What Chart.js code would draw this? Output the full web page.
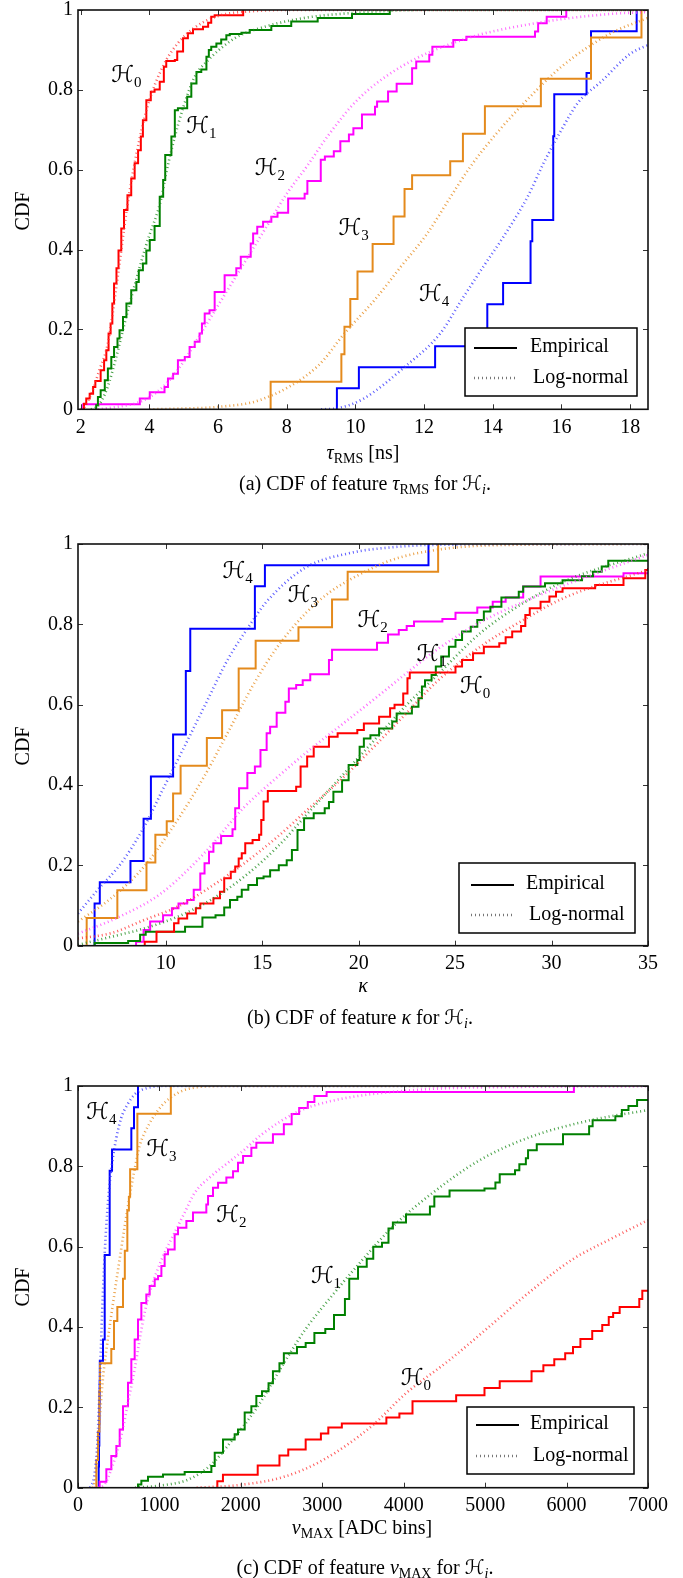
<!DOCTYPE html>
<html><head><meta charset="utf-8">
<script src="https://cdn.jsdelivr.net/npm/chart.js@4.4.0/dist/chart.umd.min.js"></script>
<style>
html,body{margin:0;padding:0;background:#fff;}
#wrap{position:relative;width:683px;height:1578px;overflow:hidden;}
canvas{position:absolute;left:0;}
</style></head><body><div id="wrap">
<canvas id="ca" width="683" height="500" style="top:0px"></canvas>
<canvas id="cb" width="683" height="510" style="top:520px"></canvas>
<canvas id="cc" width="683" height="518" style="top:1060px"></canvas>
</div>
<script>
// ---------- categories ----------
const hypotheses = ['H0','H1','H2','H3','H4'];
const yTicks = [0,0.2,0.4,0.6,0.8,1];
const tauTicks = [2,4,6,8,10,12,14,16,18];
const kapTicks = [10,15,20,25,30,35];
const vTicks = [0,1000,2000,3000,4000,5000,6000,7000];

// ---------- (a) tau_RMS : empirical [x, CDF] ----------
const tauEmpH0 = [[2.06,0],[2.095,0.014],[2.16,0.027],[2.26,0.039],[2.36,0.056],[2.425,0.071],[2.58,0.098],[2.68,0.123],[2.745,0.148],[2.81,0.19],[2.87,0.215],[2.92,0.265],[2.97,0.315],[3.04,0.353],[3.10,0.398],[3.18,0.453],[3.26,0.499],[3.36,0.536],[3.47,0.578],[3.57,0.616],[3.67,0.649],[3.75,0.683],[3.81,0.724],[3.91,0.774],[4.04,0.795],[4.15,0.801],[4.30,0.82],[4.42,0.858],[4.49,0.872],[4.74,0.875],[4.81,0.896],[4.98,0.929],[5.12,0.942],[5.27,0.952],[5.56,0.958],[5.71,0.968],[5.80,0.983],[5.90,0.987],[6.73,1.0]];
const tauEmpH1 = [[2.45,0],[2.45,0.01],[2.50,0.031],[2.58,0.048],[2.70,0.073],[2.79,0.102],[2.89,0.131],[2.97,0.156],[3.07,0.177],[3.13,0.198],[3.23,0.231],[3.33,0.265],[3.47,0.298],[3.62,0.319],[3.69,0.348],[3.81,0.365],[3.91,0.398],[4.01,0.424],[4.15,0.459],[4.30,0.532],[4.40,0.574],[4.46,0.637],[4.64,0.683],[4.74,0.749],[4.83,0.754],[5.10,0.783],[5.22,0.816],[5.37,0.845],[5.51,0.851],[5.66,0.883],[5.73,0.9],[5.80,0.908],[5.95,0.916],[6.09,0.926],[6.24,0.937],[6.34,0.94],[6.68,0.943],[6.92,0.95],[7.55,0.96],[8.13,0.971],[8.9,0.98],[9.9,0.99],[11.0,1.0]];
const tauEmpH2 = [[2.07,0],[2.07,0.0125],[3.72,0.027],[4.01,0.043],[4.44,0.056],[4.54,0.077],[4.69,0.089],[4.83,0.123],[5.03,0.131],[5.17,0.156],[5.32,0.169],[5.46,0.19],[5.53,0.215],[5.61,0.24],[5.75,0.248],[5.90,0.294],[6.19,0.336],[6.53,0.353],[6.66,0.382],[6.95,0.415],[7.02,0.44],[7.14,0.457],[7.31,0.47],[7.55,0.482],[7.73,0.492],[8.04,0.528],[8.52,0.54],[8.60,0.572],[8.99,0.625],[9.11,0.633],[9.37,0.646],[9.56,0.671],[9.81,0.688],[9.94,0.704],[10.19,0.738],[10.57,0.758],[10.63,0.771],[10.95,0.796],[11.20,0.815],[11.65,0.854],[11.77,0.871],[12.15,0.888],[12.24,0.908],[12.85,0.925],[13.23,0.933],[15.23,0.946],[15.32,0.967],[15.57,0.983],[16.14,1.0]];
const tauEmpH3 = [[7.53,0],[7.53,0.069],[9.59,0.138],[9.68,0.207],[9.85,0.276],[10.06,0.345],[10.5,0.414],[11.11,0.483],[11.43,0.552],[11.65,0.586],[12.76,0.621],[13.13,0.69],[13.77,0.759],[15.4,0.828],[16.86,0.931],[18.33,1.0]];
const tauEmpH4 = [[9.46,0],[9.46,0.053],[10.1,0.105],[12.32,0.158],[13.84,0.263],[14.3,0.316],[15.1,0.421],[15.15,0.474],[15.76,0.684],[15.79,0.789],[16.73,0.842],[16.86,0.947],[18.19,1.0]];
// ---------- (a) tau_RMS : log-normal fit [x, CDF] ----------
const tauLnH0 = [[2.0,0],[2.11,0.006],[2.31,0.04],[2.55,0.1],[2.79,0.165],[3.05,0.315],[3.34,0.5],[3.6,0.63],[3.95,0.76],[4.4,0.86],[4.83,0.917],[5.3,0.955],[6.0,0.985],[7.0,0.997],[8.0,1.0],[18.6,1.0]];
const tauLnH1 = [[2.3,0],[2.45,0.005],[2.6,0.02],[2.8,0.06],[3.0,0.12],[3.38,0.25],[3.9,0.41],[4.35,0.53],[4.46,0.58],[4.69,0.666],[5.0,0.76],[5.32,0.833],[5.66,0.87],[6.5,0.93],[7.36,0.958],[8.5,0.98],[10,0.993],[12,1],[18.6,1]];
const tauLnH2 = [[2.5,0],[3.2,0.008],[3.6,0.015],[4.0,0.03],[4.5,0.065],[5.0,0.12],[5.5,0.19],[6.0,0.26],[6.5,0.33],[7.0,0.4],[7.5,0.47],[8.0,0.54],[8.6,0.61],[9.2,0.685],[10.06,0.775],[11.33,0.858],[13.1,0.925],[15.25,0.967],[17.4,0.99],[18.6,0.995]];
const tauLnH3 = [[4,0],[5,0.002],[6,0.006],[7.28,0.025],[8.9,0.108],[9.68,0.19],[10.57,0.275],[11.33,0.358],[12.09,0.44],[12.72,0.525],[13.35,0.608],[14.1,0.69],[15.0,0.775],[16.0,0.858],[17.4,0.94],[18.6,0.983]];
const tauLnH4 = [[9.0,0],[9.43,0.002],[10.2,0.025],[11.46,0.108],[12.47,0.19],[13.1,0.275],[13.73,0.358],[14.37,0.44],[15.0,0.53],[15.5,0.62],[16.0,0.7],[16.5,0.77],[17.15,0.82],[18.0,0.89],[18.6,0.915]];

// ---------- (b) kappa : empirical ----------
const kapEmpH0 = [[8.91,0],[8.91,0.01],[9.52,0.035],[10.43,0.056],[10.66,0.068],[11.11,0.08],[11.56,0.093],[11.79,0.105],[12.47,0.118],[12.81,0.134],[13.03,0.168],[13.37,0.184],[13.6,0.197],[13.78,0.217],[13.94,0.23],[14.12,0.255],[14.5,0.263],[14.84,0.276],[14.95,0.313],[15.07,0.359],[15.29,0.385],[16.76,0.396],[16.99,0.446],[17.33,0.471],[17.67,0.495],[18.46,0.52],[18.91,0.529],[19.93,0.537],[20.27,0.553],[21.06,0.57],[21.63,0.591],[21.86,0.6],[22.31,0.628],[22.53,0.666],[22.65,0.68],[25.02,0.695],[25.36,0.711],[25.93,0.728],[26.49,0.744],[27.29,0.753],[27.62,0.768],[27.96,0.782],[28.42,0.796],[28.64,0.823],[28.87,0.84],[29.43,0.856],[29.89,0.869],[30.23,0.881],[30.57,0.89],[32.26,0.898],[33.73,0.915],[34.86,0.935],[35,0.94]];
const kapEmpH1 = [[6.31,0],[6.31,0.007],[8.05,0.012],[8.67,0.027],[8.96,0.035],[11.0,0.047],[11.9,0.07],[12.58,0.076],[13.03,0.095],[13.33,0.114],[13.71,0.122],[13.94,0.139],[14.28,0.151],[14.73,0.168],[15.07,0.172],[15.41,0.188],[15.86,0.2],[16.27,0.213],[16.54,0.238],[16.83,0.288],[17.17,0.317],[17.67,0.33],[18.24,0.342],[18.46,0.358],[18.69,0.383],[19.14,0.412],[19.48,0.45],[19.93,0.462],[20.05,0.495],[20.27,0.516],[20.61,0.524],[21.06,0.541],[21.74,0.558],[21.97,0.578],[22.76,0.595],[23.1,0.616],[23.28,0.645],[23.44,0.661],[23.78,0.674],[24.0,0.695],[24.28,0.72],[24.68,0.744],[25.02,0.761],[25.36,0.782],[25.81,0.794],[26.15,0.811],[26.49,0.832],[26.83,0.844],[27.4,0.867],[28.3,0.881],[28.53,0.894],[29.66,0.902],[30.57,0.91],[31.58,0.92],[32.15,0.931],[32.6,0.944],[32.94,0.958],[35,0.958]];
const kapEmpH2 = [[8.46,0],[8.46,0.01],[8.85,0.039],[9.19,0.06],[9.86,0.076],[10.32,0.093],[10.66,0.105],[11.11,0.114],[11.45,0.139],[11.79,0.18],[12.01,0.205],[12.24,0.234],[12.47,0.255],[12.87,0.273],[13.46,0.29],[13.6,0.342],[13.8,0.392],[14.23,0.43],[14.62,0.446],[14.91,0.487],[15.23,0.529],[15.41,0.545],[15.75,0.58],[16.2,0.607],[16.38,0.64],[16.76,0.649],[17.1,0.661],[17.49,0.676],[18.46,0.711],[18.62,0.737],[20.95,0.754],[21.52,0.775],[22.08,0.786],[22.49,0.796],[22.87,0.807],[24.34,0.813],[25.02,0.829],[26.15,0.842],[26.95,0.856],[27.62,0.867],[28.53,0.894],[29.43,0.919],[33.73,0.927],[35,0.927]];
const kapEmpH3 = [[5.9,0],[5.9,0.069],[7.49,0.138],[9.0,0.207],[9.46,0.276],[10.05,0.31],[10.38,0.379],[10.77,0.448],[12.13,0.517],[12.92,0.586],[13.78,0.69],[14.66,0.759],[16.88,0.793],[18.62,0.862],[19.43,0.931],[24.12,1.0]];
const kapEmpH4 = [[6.31,0],[6.31,0.105],[6.58,0.158],[8.17,0.211],[8.85,0.316],[9.23,0.421],[10.38,0.526],[11.04,0.684],[11.27,0.789],[14.62,0.895],[15.14,0.947],[23.62,1.0]];
// ---------- (b) kappa : log-normal fit ----------
const kapLnH0 = [[5.45,0.018],[7.16,0.031],[8.88,0.064],[10.61,0.097],[12.34,0.147],[14.07,0.205],[15.79,0.271],[17.52,0.346],[19.25,0.421],[20.97,0.504],[22.5,0.58],[24,0.655],[26.3,0.744],[28.5,0.81],[30.8,0.869],[35,0.935]];
const kapLnH1 = [[5.45,0.002],[7.16,0.022],[8.88,0.043],[10.61,0.072],[12.34,0.114],[14.07,0.172],[15.79,0.246],[17.52,0.338],[19.25,0.429],[20.97,0.52],[22.5,0.6],[24,0.67],[26.3,0.778],[28.5,0.852],[30.8,0.91],[35,0.977]];
const kapLnH2 = [[5.45,0.03],[7.5,0.07],[9.75,0.13],[11.99,0.23],[14.07,0.345],[15.79,0.42],[17.52,0.49],[19.25,0.555],[20.97,0.62],[22.65,0.685],[24,0.735],[26.3,0.805],[28.5,0.855],[30.8,0.9],[35,0.973]];
const kapLnH3 = [[5.45,0.06],[7.16,0.118],[8.88,0.197],[10.61,0.313],[11.99,0.421],[13.2,0.529],[14.58,0.653],[15.79,0.744],[17.3,0.83],[18.5,0.88],[19.5,0.91],[21.7,0.96],[24,0.985],[27,0.997],[35,1]];
const kapLnH4 = [[5.45,0.08],[6.47,0.139],[7.68,0.205],[8.88,0.296],[9.92,0.396],[10.96,0.495],[12.17,0.612],[13.2,0.711],[14.41,0.802],[15.2,0.855],[17.2,0.94],[19.5,0.977],[22,0.993],[24,0.998],[35,1]];

// ---------- (c) v_MAX : empirical ----------
const vEmpH0 = [[1711,0],[1711,0.016],[1780,0.032],[2207,0.055],[2474,0.08],[2582,0.095],[2796,0.12],[2983,0.135],[3074,0.15],[3240,0.16],[3787,0.175],[3947,0.185],[4108,0.215],[4644,0.23],[4992,0.248],[5179,0.265],[5570,0.29],[5715,0.305],[5849,0.32],[5983,0.335],[6079,0.35],[6170,0.37],[6315,0.39],[6438,0.405],[6518,0.425],[6572,0.435],[6652,0.45],[6893,0.47],[6930,0.49],[7000,0.49]];
const vEmpH1 = [[737,0],[737,0.008],[778,0.017],[860,0.027],[1044,0.033],[1310,0.039],[1638,0.054],[1679,0.087],[1781,0.12],[1924,0.133],[1965,0.145],[2047,0.187],[2129,0.203],[2190,0.228],[2260,0.24],[2340,0.26],[2394,0.29],[2474,0.31],[2528,0.335],[2689,0.35],[2796,0.36],[2903,0.385],[3037,0.395],[3144,0.43],[3278,0.47],[3331,0.52],[3439,0.55],[3546,0.57],[3626,0.6],[3733,0.61],[3813,0.645],[3867,0.66],[4028,0.68],[4322,0.7],[4376,0.725],[4563,0.74],[4992,0.745],[5126,0.76],[5179,0.78],[5367,0.79],[5420,0.805],[5500,0.82],[5527,0.84],[5634,0.855],[5956,0.88],[6277,0.9],[6320,0.915],[6599,0.925],[6679,0.94],[6760,0.95],[6866,0.965],[7000,0.965]];
const vEmpH2 = [[266,0],[266,0.015],[348,0.046],[409,0.079],[471,0.104],[512,0.145],[553,0.203],[614,0.261],[655,0.32],[696,0.369],[737,0.419],[778,0.46],[839,0.481],[880,0.502],[942,0.519],[983,0.527],[1024,0.552],[1064,0.581],[1105,0.593],[1187,0.631],[1228,0.647],[1331,0.664],[1412,0.685],[1576,0.705],[1597,0.726],[1658,0.747],[1720,0.759],[1822,0.772],[1904,0.788],[1965,0.809],[2027,0.826],[2129,0.846],[2190,0.859],[2394,0.88],[2528,0.905],[2624,0.93],[2716,0.945],[2822,0.96],[2903,0.975],[3053,0.985],[6090,1.0]];
const vEmpH3 = [[225,0],[225,0.069],[245,0.14],[262,0.24],[270,0.31],[409,0.345],[442,0.415],[483,0.45],[553,0.52],[575,0.59],[606,0.69],[625,0.724],[640,0.793],[729,0.931],[1140,1.0]];
const vEmpH4 = [[254,0],[254,0.053],[258,0.105],[262,0.158],[264,0.21],[266,0.263],[268,0.316],[307,0.369],[328,0.579],[389,0.789],[418,0.842],[655,0.895],[688,0.947],[737,1.0]];
// ---------- (c) v_MAX : log-normal fit ----------
const vLnH0 = [[1457,0],[1992,0.007],[2528,0.027],[3010,0.069],[3599,0.152],[4028,0.235],[4563,0.318],[5045,0.4],[5527,0.484],[6063,0.567],[6550,0.62],[7000,0.666]];
const vLnH1 = [[700,0],[1000,0.005],[1350,0.02],[1640,0.058],[1900,0.12],[2200,0.2],[2528,0.31],[2796,0.395],[3144,0.484],[3492,0.567],[3867,0.65],[4349,0.733],[4938,0.816],[5581,0.875],[6300,0.915],[7000,0.94]];
const vLnH2 = [[200,0],[307,0.004],[409,0.046],[532,0.129],[614,0.212],[696,0.295],[757,0.369],[819,0.436],[880,0.485],[962,0.535],[1064,0.585],[1187,0.635],[1310,0.685],[1433,0.734],[1638,0.776],[1842,0.809],[2047,0.842],[2260,0.88],[2689,0.935],[3117,0.963],[4135,0.99],[5500,0.998],[7000,1.0]];
const vLnH3 = [[180,0],[210,0.02],[240,0.08],[270,0.18],[310,0.28],[360,0.36],[409,0.43],[460,0.5],[520,0.58],[573,0.65],[635,0.726],[696,0.793],[757,0.851],[860,0.9],[1024,0.95],[1228,0.983],[1433,0.996],[1800,1],[7000,1]];
const vLnH4 = [[150,0],[200,0.03],[240,0.12],[265,0.25],[290,0.4],[320,0.55],[350,0.66],[385,0.75],[420,0.81],[470,0.87],[530,0.92],[610,0.955],[700,0.98],[850,0.995],[1100,1],[7000,1]];

// ---------- styling ----------
const FONT = "'Liberation Serif','DejaVu Serif',serif";
const CAL = "'DejaVu Serif','DejaVu Sans',serif";
const lineColors = ['#ff0000','#008000','#ff00ff','#e48a1c','#0000ff'];
const dotColors = ['rgba(255,50,50,0.8)','rgba(30,140,30,0.8)','rgba(255,70,255,0.8)','rgba(232,145,40,0.85)','rgba(50,50,255,0.8)'];
const DOT = [1, 3];

function drawRich(ctx, segs, x, y, align) {
  let w = 0;
  segs.forEach(s => { ctx.font = s[1]; w += ctx.measureText(s[0]).width; });
  let cx = align === 'center' ? x - w / 2 : x;
  ctx.textAlign = 'left'; ctx.textBaseline = 'alphabetic';
  segs.forEach(s => { ctx.font = s[1]; ctx.fillText(s[0], cx, y + (s[2] || 0)); cx += ctx.measureText(s[0]).width; });
}
const R = s => s + 'px ' + FONT;
const I = s => 'italic ' + s + 'px ' + FONT;

function makePanel(id, cfg) {
  const datasets = [];
  cfg.ln.forEach((d, i) => datasets.push({
    data: d.map(p => ({x: p[0], y: p[1]})), borderColor: dotColors[i], borderWidth: 2.6,
    borderDash: DOT, borderCapStyle: 'butt', cubicInterpolationMode: 'monotone', pointRadius: 0, fill: false
  }));
  cfg.emp.forEach((d, i) => datasets.push({
    data: d.map(p => ({x: p[0], y: p[1]})), borderColor: lineColors[i], borderWidth: 2,
    stepped: true, pointRadius: 0, fill: false
  }));
  const decor = {
    id: 'decor' + id,
    afterDraw(chart) {
      const {ctx, chartArea: a, scales: {x, y}} = chart;
      ctx.save();
      ctx.strokeStyle = '#333'; ctx.lineWidth = 1;
      ctx.beginPath();
      x.ticks.forEach(t => { const px = Math.round(x.getPixelForValue(t.value)) + 0.5;
        ctx.moveTo(px, a.bottom); ctx.lineTo(px, a.bottom - 5); ctx.moveTo(px, a.top); ctx.lineTo(px, a.top + 5); });
      y.ticks.forEach(t => { const py = Math.round(y.getPixelForValue(t.value)) + 0.5;
        ctx.moveTo(a.left, py); ctx.lineTo(a.left + 5, py); ctx.moveTo(a.right, py); ctx.lineTo(a.right - 5, py); });
      ctx.stroke();
      ctx.lineWidth = 1.6; ctx.strokeStyle = '#111';
      ctx.strokeRect(a.left, a.top, a.right - a.left, a.bottom - a.top);
      // hypothesis labels
      ctx.fillStyle = '#000';
      cfg.labels.forEach((p, i) => {
        const px = x.getPixelForValue(p[0]), py = y.getPixelForValue(p[1]);
        drawRich(ctx, [['\u210B', '23px ' + CAL, 0], [String(i), R(15), 5]], px, py + 8, 'left');
      });
      // legend
      const T = cfg.top0, L = cfg.legend;
      ctx.fillStyle = '#fff'; ctx.fillRect(L.x, L.y - T, L.w, L.h);
      ctx.strokeStyle = '#000'; ctx.lineWidth = 1.5; ctx.strokeRect(L.x, L.y - T, L.w, L.h);
      ctx.lineWidth = 2; ctx.beginPath(); ctx.moveTo(L.lx0, L.y1 - T); ctx.lineTo(L.lx1, L.y1 - T); ctx.stroke();
      ctx.setLineDash(DOT); ctx.strokeStyle = '#777'; ctx.lineWidth = 2.6;
      ctx.beginPath(); ctx.moveTo(L.lx0, L.y2 - T); ctx.lineTo(L.lx1, L.y2 - T); ctx.stroke(); ctx.setLineDash([]);
      ctx.fillStyle = '#000'; ctx.font = R(20); ctx.textAlign = 'left'; ctx.textBaseline = 'middle';
      ctx.fillText('Empirical', L.tx1, L.y1 - T - 1);
      ctx.fillText('Log-normal', L.tx2, L.y2 - T);
      // titles
      drawRich(ctx, cfg.xtitle, cfg.titleX, cfg.titleY - T, 'center');
      drawRich(ctx, cfg.caption, cfg.capX, cfg.capY - T, 'center');
      ctx.save(); ctx.translate(24, cfg.cdfY - T); ctx.rotate(-Math.PI / 2);
      ctx.font = R(20); ctx.textAlign = 'center'; ctx.textBaseline = 'middle'; ctx.fillText('CDF', 0, 0); ctx.restore();
      ctx.restore();
    }
  };
  new Chart(document.getElementById(id), {
    type: 'line',
    data: {datasets},
    options: {
      responsive: false, animation: false, events: [],
      layout: {padding: {left: 0, right: 35, top: cfg.areaTop - cfg.top0, bottom: 0}},
      plugins: {legend: {display: false}, tooltip: {enabled: false}},
      scales: {
        x: {type: 'linear', min: cfg.xmin, max: cfg.xmax,
          grid: {display: false, drawTicks: false}, border: {display: false},
          afterBuildTicks: s => { s.ticks = cfg.xticks.map(v => ({value: v})); },
          afterFit: s => { s.height = cfg.h - (cfg.areaBottom - cfg.top0); s.paddingLeft = 0; s.paddingRight = 0; },
          ticks: {font: {family: FONT, size: 20}, color: '#000', padding: 6, maxRotation: 0, autoSkip: false, callback: v => String(v)}},
        y: {type: 'linear', min: 0, max: 1,
          grid: {display: false, drawTicks: false}, border: {display: false},
          afterBuildTicks: s => { s.ticks = yTicks.map(v => ({value: v})); },
          afterFit: s => { s.width = 78; s.paddingTop = 0; s.paddingBottom = 0; },
          ticks: {font: {family: FONT, size: 20}, color: '#000', padding: 5, callback: v => String(v)}}
      }
    },
    plugins: [decor]
  });
}

makePanel('ca', {
  top0: 0, h: 500, areaTop: 10, areaBottom: 409.3, xmin: 1.92, xmax: 18.52, xticks: tauTicks,
  emp: [tauEmpH0, tauEmpH1, tauEmpH2, tauEmpH3, tauEmpH4],
  ln: [tauLnH0, tauLnH1, tauLnH2, tauLnH3, tauLnH4],
  labels: [[2.89,0.839],[5.07,0.712],[7.07,0.607],[9.505,0.457],[11.85,0.291]],
  legend: {x: 465, y: 328, w: 172, h: 68, lx0: 474, lx1: 517, y1: 348, y2: 378, tx1: 530, tx2: 533},
  xtitle: [['\u03C4', I(20)], ['RMS', R(14), 4], [' [ns]', R(20)]], titleX: 363, titleY: 459,
  caption: [['(a) CDF of feature ', R(20)], ['\u03C4', I(20)], ['RMS', R(14), 4], [' for ', R(20)], ['\u210B', '20px ' + CAL], ['i', I(14), 4], ['.', R(20)]],
  capX: 365, capY: 490, cdfY: 211
});
makePanel('cb', {
  top0: 520, h: 510, areaTop: 544, areaBottom: 945.7, xmin: 5.45, xmax: 35, xticks: kapTicks,
  emp: [kapEmpH0, kapEmpH1, kapEmpH2, kapEmpH3, kapEmpH4],
  ln: [kapLnH0, kapLnH1, kapLnH2, kapLnH3, kapLnH4],
  labels: [[25.25,0.649],[23.0,0.728],[19.94,0.814],[16.33,0.876],[12.94,0.935]],
  legend: {x: 459, y: 863, w: 176, h: 70, lx0: 471, lx1: 514, y1: 885, y2: 915, tx1: 526, tx2: 529},
  xtitle: [['\u03BA', I(20)]], titleX: 363, titleY: 992,
  caption: [['(b) CDF of feature ', R(20)], ['\u03BA', I(20)], [' for ', R(20)], ['\u210B', '20px ' + CAL], ['i', I(14), 4], ['.', R(20)]],
  capX: 360, capY: 1024, cdfY: 746
});
makePanel('cc', {
  top0: 1060, h: 518, areaTop: 1086, areaBottom: 1487.7, xmin: 0, xmax: 7000, xticks: vTicks,
  emp: [vEmpH0, vEmpH1, vEmpH2, vEmpH3, vEmpH4],
  ln: [vLnH0, vLnH1, vLnH2, vLnH3, vLnH4],
  labels: [[3963,0.276],[2860,0.53],[1698,0.681],[839,0.846],[102,0.938]],
  legend: {x: 467, y: 1407, w: 167, h: 67, lx0: 476, lx1: 519, y1: 1425, y2: 1456, tx1: 530, tx2: 533},
  xtitle: [['v', I(20)], ['MAX', R(14), 4], [' [ADC bins]', R(20)]], titleX: 362, titleY: 1534,
  caption: [['(c) CDF of feature ', R(20)], ['v', I(20)], ['MAX', R(14), 4], [' for ', R(20)], ['\u210B', '20px ' + CAL], ['i', I(14), 4], ['.', R(20)]],
  capX: 365, capY: 1574, cdfY: 1287
});
</script>
</body></html>
